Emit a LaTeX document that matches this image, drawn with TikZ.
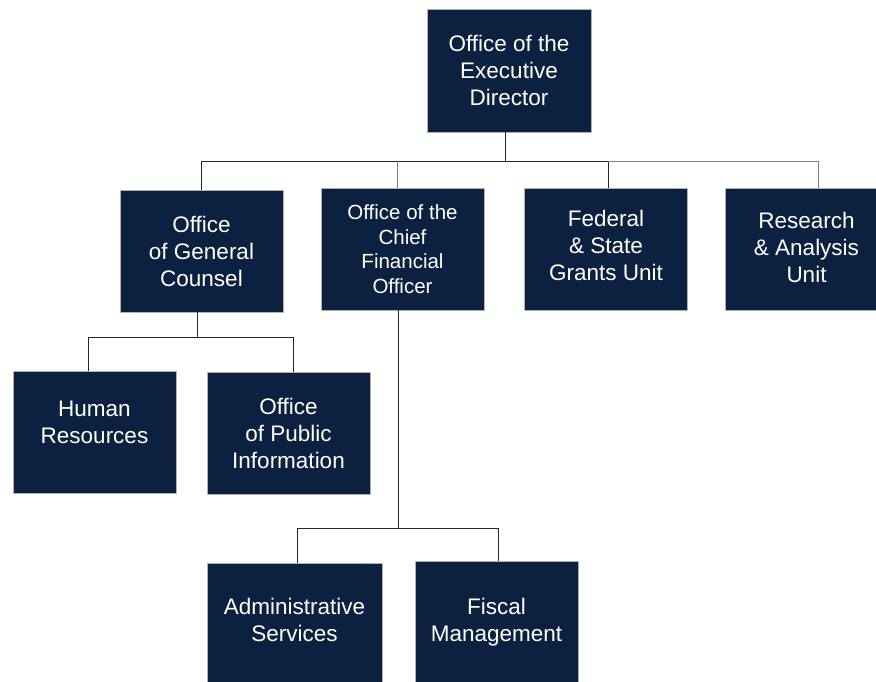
\documentclass[tikz,border=0pt]{standalone}
\usepackage{fontspec}
\setmainfont{Liberation Sans}
\definecolor{navy}{RGB}{12,33,64}
\begin{document}
\begin{tikzpicture}[x=1pt, y=-1pt]
\tikzstyle{every node} = [rectangle, fill=navy, draw=gray!60, line width=.4pt, text=white, align=center, inner sep=0pt, minimum width=163pt, minimum height=122pt, font=\fontsize{22.5}{27}\selectfont]
\tikzstyle{link} = [black!85, line width=.8pt]
\tikzstyle{lightlink} = [gray, line width=.8pt]
\useasboundingbox (0,0) rectangle (876,682);
\clip (0,0) rectangle (876,682);
\node (exec) at (509,70.5) [minimum width=164pt, minimum height=123pt] {Office of the\\Executive\\Director};
\node (gc) at (201.5,251) {Office\\of General\\Counsel};
\node (cfo) at (402.5,249) [font=\fontsize{20.5}{24.6}\selectfont] {Office of the\\Chief\\Financial\\Officer};
\node (fed) at (606,249) [text depth=8pt] {Federal\\\& State\\Grants Unit};
\node (res) at (806.5,249.5) [text depth=4pt] {Research\\\& Analysis\\Unit};
\node (hr) at (94.5,432) [text depth=20pt] {Human\\Resources};
\node (opi) at (288.5,433) {Office\\of Public\\Information};
\node (adm) at (294.5,624) [minimum width=175pt, text depth=8pt] {Administrative\\Services};
\node (fis) at (496.5,622) {Fiscal\\Management};
\draw[link] ([xshift=-4pt]exec.south) -- ++(0,29) coordinate (bus);
\draw[link] (gc.north) |- (bus) -| ([xshift=2pt]fed.north);
\draw[lightlink] ([xshift=-5.5pt]cfo.north) -- ([xshift=-5.5pt]cfo.north |- bus);
\draw[lightlink] ([xshift=2pt]fed.north |- bus) -| ([xshift=11.5pt]res.north);
\draw[link] ([xshift=-4.5pt]gc.south) -- ++(0,25) coordinate (gcbus);
\draw[link] ([xshift=-6.5pt]hr.north) |- (gcbus) -| ([xshift=4.5pt]opi.north);
\draw[link] ([xshift=-4.5pt]cfo.south) -- ++(0,218) coordinate (cfobus);
\draw[link] ([xshift=2.5pt]adm.north) |- (cfobus) -| ([xshift=1.5pt]fis.north);
\end{tikzpicture}
\end{document}
